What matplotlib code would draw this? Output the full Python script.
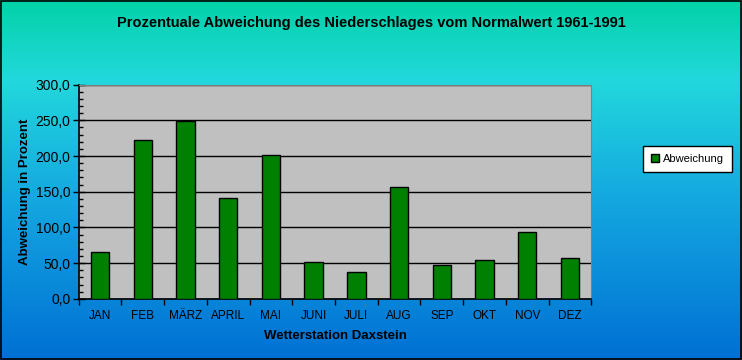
import numpy as np
import matplotlib.pyplot as plt
from matplotlib.colors import LinearSegmentedColormap
from matplotlib.ticker import MultipleLocator, FuncFormatter

# Daten
monate = ["JAN", "FEB", "MÄRZ", "APRIL", "MAI", "JUNI", "JULI", "AUG", "SEP", "OKT", "NOV", "DEZ"]
abweichung = [66, 222, 249, 141, 202, 52, 37, 156, 47, 54, 94, 57]

plt.rcParams['font.family'] = ['Liberation Sans', 'DejaVu Sans']

fig = plt.figure(figsize=(7.42, 3.6), dpi=100)

# Hintergrund-Verlauf (gruen-tuerkis oben, blau unten)
bg = fig.add_axes([0, 0, 1, 1], zorder=-10)
cmap = LinearSegmentedColormap.from_list(
    "bg", [(0.0, "#0070d4"), (0.45, "#14a8e0"), (0.78, "#22d8dc"), (1.0, "#02d2a8")])
grad = np.linspace(0, 1, 256).reshape(-1, 1)
bg.imshow(grad, cmap=cmap, aspect='auto', origin='lower', extent=[0, 1, 0, 1])
bg.set_xlim(0, 1)
bg.set_ylim(0, 1)
bg.axis('off')
bg.add_patch(plt.Rectangle((0.0007, 0.0014), 0.9986, 0.9972, fill=False,
                           edgecolor='black', linewidth=1.2, transform=bg.transAxes))

ax = fig.add_axes([0.106, 0.170, 0.691, 0.595])
ax.set_facecolor('#c0c0c0')
x = np.arange(len(monate))
ax.bar(x, abweichung, width=0.43, color='#008000', edgecolor='black', linewidth=1.0,
       label='Abweichung', zorder=3)

ax.set_xlim(-0.5, len(monate) - 0.5)
ax.set_ylim(0, 300)
ax.yaxis.set_major_locator(MultipleLocator(50))
ax.yaxis.set_minor_locator(MultipleLocator(10))
ax.yaxis.set_major_formatter(FuncFormatter(lambda v, p: f"{v:.1f}".replace('.', ',')))
ax.grid(axis='y', which='major', color='black', linewidth=1.0, zorder=1)
ax.set_axisbelow(True)

ax.set_xticks(x)
ax.set_xticklabels(monate, fontsize=8.5)
ax.set_xticks(np.arange(-0.5, len(monate)), minor=True)
ax.tick_params(axis='x', which='major', length=0, pad=8)
ax.tick_params(axis='x', which='minor', length=4, direction='out', width=1)
ax.tick_params(axis='y', which='major', length=8, direction='inout', width=1, labelsize=10, pad=2)
ax.tick_params(axis='y', which='minor', length=3, direction='in', width=1)

for s in ['top', 'right']:
    ax.spines[s].set_color('#808080')
for s in ['left', 'bottom']:
    ax.spines[s].set_color('black')
    ax.spines[s].set_linewidth(1.2)

ax.set_xlabel("Wetterstation Daxstein", fontsize=9.5, fontweight='bold', labelpad=6)
ax.set_ylabel("Abweichung in Prozent", fontsize=9.5, fontweight='bold', labelpad=3)

fig.text(0.5, 0.935, "Prozentuale Abweichung des Niederschlages vom Normalwert 1961-1991",
         ha='center', va='center', fontsize=10.5, fontweight='bold')

leg = ax.legend(loc='center', bbox_to_anchor=(0.927, 0.558), bbox_transform=fig.transFigure,
                fontsize=8, frameon=True, fancybox=False, handlelength=0.7, handleheight=0.7,
                handletextpad=0.4, borderpad=0.7)
leg.get_frame().set_edgecolor('black')
leg.get_frame().set_linewidth(1.0)
leg.get_frame().set_facecolor('white')
leg.get_frame().set_alpha(1)

fig.savefig("out.png", dpi=100)
